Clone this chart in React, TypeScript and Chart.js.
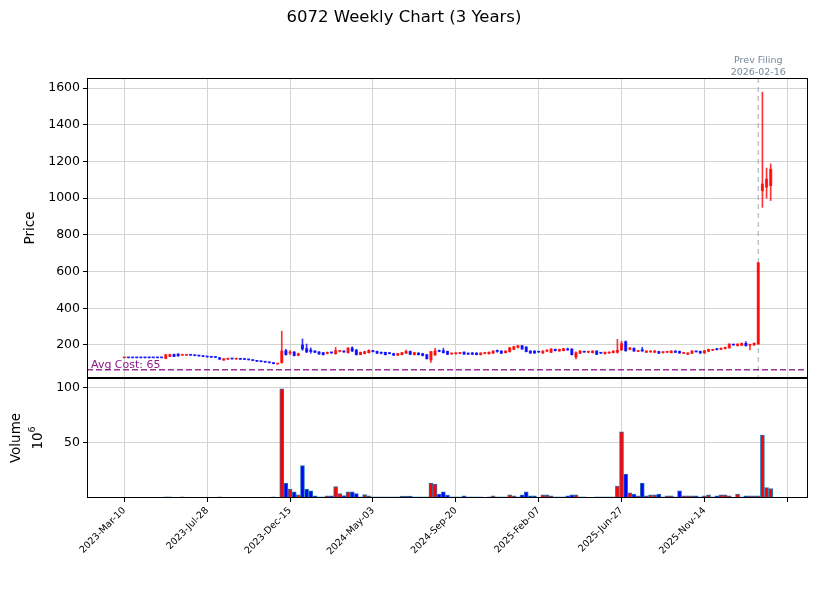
import React, { useEffect, useRef } from 'react';
import { Chart, registerables } from 'chart.js';

Chart.register(...registerables);

// ---------- data (weekly candles, index 0 = 2023-03-10) ----------
const OPEN = [
  130, 131, 131, 131, 131, 131, 131, 131, 131, 131,
  126, 137, 149, 151, 144, 144, 145, 144, 142, 140,
  136, 135, 133, 131, 117, 122, 126, 123, 125, 124,
  121, 119, 115, 111, 109, 106, 104, 96, 104, 169,
  156, 162, 143, 200, 180, 173, 167, 162, 158, 154,
  159, 153, 165, 167, 158, 184, 173, 147, 153, 158,
  169, 165, 158, 160, 156, 153, 144, 147, 155, 165,
  147, 156, 153, 147, 118, 145, 167, 169, 165, 151,
  152, 154, 161, 155, 157, 156, 147, 154, 152, 155,
  168, 167, 158, 163, 176, 186, 196, 189, 167, 167,
  163, 156, 166, 160, 176, 167, 169, 176, 178, 134,
  155, 163, 160, 158, 167, 157, 152, 156, 158, 160,
  173, 218, 176, 182, 165, 174, 160, 162, 160, 164,
  158, 160, 158, 167, 165, 154, 149, 155, 164, 165,
  156, 165, 171, 178, 176, 180, 184, 201, 196, 198,
  209, 199, 200, 205, 1040, 1060, 1068,
];
const HIGH = [
  131, 131, 131, 131, 131, 131, 131, 131, 131, 131,
  148, 150, 150, 152, 146, 146, 146, 145, 143, 141,
  137, 136, 134, 132, 126, 128, 127, 127, 126, 125,
  122, 120, 116, 112, 110, 107, 105, 98, 275, 176,
  169, 164, 156, 233, 205, 184, 170, 164, 160, 162,
  161, 187, 170, 168, 185, 190, 175, 162, 166, 174,
  171, 167, 162, 161, 158, 155, 155, 160, 172, 167,
  160, 158, 155, 149, 166, 182, 172, 182, 167, 156,
  157, 159, 163, 157, 159, 158, 158, 158, 162, 169,
  173, 169, 169, 187, 193, 198, 198, 191, 169, 169,
  165, 169, 175, 180, 178, 178, 182, 183, 180, 162,
  169, 165, 167, 169, 169, 159, 162, 162, 169, 231,
  220, 222, 186, 184, 169, 187, 169, 168, 171, 166,
  164, 164, 169, 169, 167, 158, 158, 169, 166, 167,
  171, 178, 176, 180, 184, 189, 207, 203, 207, 211,
  218, 203, 212, 650, 1578, 1164, 1187,
];
const LOW = [
  130, 130, 130, 130, 130, 130, 130, 130, 130, 130,
  125, 136, 136, 139, 143, 143, 143, 141, 139, 136,
  134, 132, 131, 121, 116, 121, 123, 122, 121, 120,
  118, 114, 110, 108, 105, 102, 97, 95, 100, 144,
  147, 140, 141, 171, 158, 155, 158, 149, 145, 151,
  154, 149, 162, 160, 156, 164, 145, 146, 151, 156,
  162, 153, 151, 145, 151, 142, 142, 146, 153, 147,
  145, 145, 140, 123, 105, 143, 163, 156, 147, 149,
  150, 152, 148, 148, 147, 146, 145, 152, 150, 153,
  160, 153, 156, 161, 174, 184, 176, 162, 154, 154,
  160, 154, 164, 158, 167, 165, 167, 171, 145, 124,
  153, 160, 158, 156, 147, 154, 150, 154, 156, 155,
  170, 165, 174, 165, 163, 165, 158, 160, 158, 153,
  156, 158, 156, 158, 154, 152, 147, 153, 161, 154,
  154, 163, 169, 173, 174, 178, 182, 198, 194, 196,
  194, 173, 198, 203, 950, 1000, 987,
];
const CLOSE = [
  131, 130, 130, 130, 130, 130, 130, 130, 130, 130,
  147, 148, 137, 140, 145, 145, 144, 142, 140, 137,
  135, 133, 132, 122, 125, 127, 124, 126, 122, 121,
  119, 115, 111, 109, 106, 103, 98, 97, 167, 147,
  160, 142, 153, 178, 162, 164, 160, 151, 147, 156,
  157, 169, 168, 162, 184, 167, 147, 160, 164, 171,
  164, 155, 155, 147, 153, 144, 153, 158, 165, 149,
  158, 147, 142, 125, 164, 167, 165, 158, 149, 154,
  155, 157, 150, 150, 149, 147, 156, 156, 160, 167,
  165, 155, 167, 185, 191, 196, 178, 164, 156, 156,
  161, 167, 168, 178, 169, 176, 180, 173, 147, 158,
  167, 161, 165, 167, 149, 155, 160, 160, 167, 171,
  207, 169, 184, 167, 167, 167, 167, 165, 167, 155,
  162, 162, 167, 160, 156, 156, 156, 167, 163, 156,
  169, 176, 173, 175, 182, 187, 205, 200, 205, 209,
  196, 201, 209, 648, 1077, 1104, 1158,
];
// volume in millions of shares
const VOLUME = [
  0, 0, 0, 0, 0, 0, 0, 0, 0, 0.6,
  1.0, 1.0, 0, 0, 1.0, 0, 0, 0, 0, 0,
  0, 0, 0, 1.0, 0, 0, 0, 0, 0, 0,
  0, 0, 0, 0, 0, 0, 1.0, 0.5, 99, 13.6,
  8.2, 5.5, 2.8, 29.4, 8.2, 6.4, 1.9, 1.0, 1.0, 1.9,
  1.9, 10.3, 4.0, 2.2, 5.5, 5.5, 4.0, 1.0, 3.1, 1.9,
  1.0, 1.0, 1.0, 1.0, 1.0, 1.0, 1.0, 1.8, 1.8, 1.8,
  1.0, 1.0, 1.0, 1.0, 13.6, 12.7, 3.6, 5.5, 2.7, 1.0,
  1.0, 1.0, 1.9, 1.0, 1.0, 1.0, 1.0, 0, 1.0, 1.9,
  1.0, 1.0, 1.0, 2.8, 1.9, 1.0, 2.8, 5.5, 1.9, 1.9,
  0.5, 2.8, 2.8, 1.9, 1.0, 1.0, 1.0, 1.9, 2.8, 2.8,
  1.0, 1.0, 0.3, 0.3, 1.0, 1.0, 1.0, 1.0, 1.0, 10.9,
  60, 21.8, 4.8, 3.6, 1.9, 13.6, 1.9, 2.8, 2.8, 3.6,
  1.0, 1.9, 1.9, 1.0, 6.4, 1.9, 1.9, 1.9, 1.9, 1.0,
  1.9, 2.8, 1.0, 1.9, 2.8, 2.8, 1.9, 0.5, 3.6, 1.0,
  1.9, 1.9, 1.9, 1.9, 57, 9.4, 8.5,
];

const X_TICKS = [0, 20, 40, 60, 80, 100, 120, 140, 160];
const X_TICK_LABELS = [
  '2023-Mar-10', '2023-Jul-28', '2023-Dec-15', '2024-May-03',
  '2024-Sep-20', '2025-Feb-07', '2025-Jun-27', '2025-Nov-14', '',
];
const PRICE_TICKS = [200, 400, 600, 800, 1000, 1200, 1400, 1600];
const VOLUME_TICKS = [50, 100];
const AVG_COST = 65;
const FILING_INDEX = 153;
const FILING_LABEL = ['Prev Filing', '2026-02-16'];
const TITLE = '6072 Weekly Chart (3 Years)';

const FONT = "'DejaVu Sans', sans-serif";
const UP_CANDLE = 'rgba(255,0,0,0.8)';
const DOWN_CANDLE = 'rgba(0,0,255,0.8)';
const UP_VOL = '#ff0000';
const DOWN_VOL = '#0000ff';
const GRID = '#d3d3d3';
const TICK_FONT = 12.5;
const X_TICK_FONT = 9.5;
const LABEL_FONT = 13.5;

const overlayPlugin = {
  id: 'overlay',
  beforeDatasetsDraw(chart: any) {
    const { ctx, chartArea, scales } = chart;
    const x = scales.x;
    const y = scales.y;
    ctx.save();
    const fx = x.getPixelForValue(FILING_INDEX);
    ctx.strokeStyle = 'rgba(119,136,153,0.6)';
    ctx.lineWidth = 1.2;
    ctx.setLineDash([5, 4]);
    ctx.beginPath();
    ctx.moveTo(fx, y.top);
    ctx.lineTo(fx, y.bottom);
    ctx.stroke();
    const ay = y.getPixelForValue(AVG_COST);
    ctx.strokeStyle = 'rgba(128,0,128,0.8)';
    ctx.lineWidth = 1.5;
    ctx.setLineDash([6, 3]);
    ctx.beginPath();
    ctx.moveTo(chartArea.left, ay);
    ctx.lineTo(chartArea.right, ay);
    ctx.stroke();
    ctx.restore();
  },
  afterDraw(chart: any) {
    const { ctx, chartArea, scales } = chart;
    const x = scales.x;
    const y = scales.y;
    const yv = scales.yv;
    ctx.save();
    ctx.strokeStyle = '#000';
    ctx.lineWidth = 1;
    ctx.setLineDash([]);
    const l = Math.round(chartArea.left) + 0.5;
    const r = Math.round(chartArea.right) - 0.5;
    const pt = Math.round(y.top) + 0.5;
    const pb = Math.round(y.bottom) - 0.5;
    const vt = Math.round(yv.top) + 0.5;
    const vb = Math.round(yv.bottom) - 0.5;
    ctx.strokeRect(l, pt, r - l, pb - pt);
    ctx.strokeRect(l, vt, r - l, vb - vt);

    const ay = y.getPixelForValue(AVG_COST);
    ctx.fillStyle = 'rgba(128,0,128,0.9)';
    ctx.font = `11px ${FONT}`;
    ctx.textAlign = 'left';
    ctx.textBaseline = 'alphabetic';
    ctx.fillText(`Avg Cost: ${AVG_COST}`, chartArea.left + 4, ay - 2);

    const fx = x.getPixelForValue(FILING_INDEX);
    ctx.fillStyle = '#778899';
    ctx.font = `9.5px ${FONT}`;
    ctx.textAlign = 'center';
    ctx.textBaseline = 'middle';
    ctx.fillText(FILING_LABEL[0], fx, 61);
    ctx.fillText(FILING_LABEL[1], fx, 73);

    ctx.fillStyle = '#000';
    ctx.font = `${LABEL_FONT}px ${FONT}`;
    ctx.save();
    ctx.translate(30, (y.top + y.bottom) / 2);
    ctx.rotate(-Math.PI / 2);
    ctx.fillText('Price', 0, 0);
    ctx.restore();

    const vc = (yv.top + yv.bottom) / 2;
    ctx.save();
    ctx.translate(16, vc);
    ctx.rotate(-Math.PI / 2);
    ctx.fillText('Volume', 0, 0);
    ctx.restore();

    ctx.save();
    ctx.translate(37, vc);
    ctx.rotate(-Math.PI / 2);
    ctx.textAlign = 'left';
    ctx.font = `${LABEL_FONT}px ${FONT}`;
    const w10 = ctx.measureText('10').width;
    ctx.font = `9.5px ${FONT}`;
    const w6 = ctx.measureText('6').width;
    const start = -(w10 + w6) / 2;
    ctx.font = `${LABEL_FONT}px ${FONT}`;
    ctx.fillText('10', start, 1);
    ctx.font = `9.5px ${FONT}`;
    ctx.fillText('6', start + w10, -4);
    ctx.restore();

    ctx.restore();
  },
};

export default function App() {
  const ref = useRef<HTMLCanvasElement | null>(null);

  useEffect(() => {
    const idx = CLOSE.map((_, i) => i);
    const isUp = idx.map((i) => CLOSE[i] >= OPEN[i]);

    const chart = new Chart(ref.current as HTMLCanvasElement, {
      type: 'bar',
      data: {
        datasets: [
          {
            label: 'wick',
            data: idx.map((i) => ({ x: i, y: [LOW[i], HIGH[i]] })) as any,
            yAxisID: 'y',
            backgroundColor: isUp.map((u) => (u ? UP_CANDLE : DOWN_CANDLE)),
            barThickness: 1,
            grouped: false,
            order: 2,
          } as any,
          {
            label: 'body',
            data: idx.map((i) => ({ x: i, y: [OPEN[i], CLOSE[i]] })) as any,
            yAxisID: 'y',
            backgroundColor: isUp.map((u) => (u ? UP_CANDLE : DOWN_CANDLE)),
            barThickness: 2.4,
            minBarLength: 1,
            grouped: false,
            order: 1,
          } as any,
          {
            label: 'volume',
            data: idx.map((i) => ({ x: i, y: VOLUME[i] })) as any,
            yAxisID: 'yv',
            backgroundColor: isUp.map((u) => (u ? UP_VOL : DOWN_VOL)),
            borderColor: '#1f77b4',
            borderWidth: 1,
            barThickness: 4,
            grouped: false,
            order: 3,
          } as any,
        ],
      },
      options: {
        responsive: false,
        animation: false,
        events: [],
        layout: { padding: { left: 0, right: 9, top: 0, bottom: 0 } },
        plugins: {
          legend: { display: false },
          tooltip: { enabled: false },
          title: {
            display: true,
            text: TITLE,
            color: '#000',
            font: { family: FONT, size: 16.5, weight: 'normal' },
            padding: { top: 8.1, bottom: 50.1 },
          },
        },
        scales: {
          x: {
            type: 'linear',
            min: -9,
            max: 165,
            offset: false,
            afterBuildTicks: (s: any) => {
              s.ticks = X_TICKS.map((v) => ({ value: v }));
            },
            afterFit: (s: any) => {
              s.height = 94;
            },
            ticks: {
              autoSkip: false,
              maxRotation: 45,
              minRotation: 45,
              padding: 3,
              color: '#000',
              font: { family: FONT, size: X_TICK_FONT },
              callback: (v: any) => {
                const k = X_TICKS.indexOf(Number(v));
                return k >= 0 ? X_TICK_LABELS[k] : '';
              },
            },
            grid: { color: GRID, lineWidth: 1, offset: false, tickColor: '#000', tickLength: 4 },
            border: { display: false },
          },
          y: {
            type: 'linear',
            position: 'left',
            stack: 'panels',
            stackWeight: 300,
            weight: 1,
            min: 20,
            max: 1655,
            afterBuildTicks: (s: any) => {
              s.ticks = PRICE_TICKS.map((v) => ({ value: v }));
            },
            afterFit: (s: any) => {
              s.width = 87;
            },
            ticks: {
              padding: 3,
              color: '#000',
              font: { family: FONT, size: TICK_FONT },
              callback: (v: any) => String(v),
            },
            grid: { color: GRID, lineWidth: 1, tickColor: '#000', tickLength: 4 },
            border: { display: false },
          },
          yv: {
            type: 'linear',
            position: 'left',
            stack: 'panels',
            stackWeight: 120,
            weight: 0,
            min: 0,
            max: 108.9,
            afterBuildTicks: (s: any) => {
              s.ticks = VOLUME_TICKS.map((v) => ({ value: v }));
            },
            afterFit: (s: any) => {
              s.width = 87;
            },
            ticks: {
              padding: 3,
              color: '#000',
              font: { family: FONT, size: TICK_FONT },
              callback: (v: any) => String(v),
            },
            grid: { color: GRID, lineWidth: 1, tickColor: '#000', tickLength: 4 },
            border: { display: false },
          },
        },
      } as any,
      plugins: [overlayPlugin],
    });

    return () => chart.destroy();
  }, []);

  return (
    <div
      style={{
        position: 'fixed',
        left: 0,
        top: 0,
        width: 817,
        height: 592,
        background: '#ffffff',
      }}
    >
      <canvas ref={ref} width={817} height={592} style={{ width: 817, height: 592, display: 'block' }} />
    </div>
  );
}
